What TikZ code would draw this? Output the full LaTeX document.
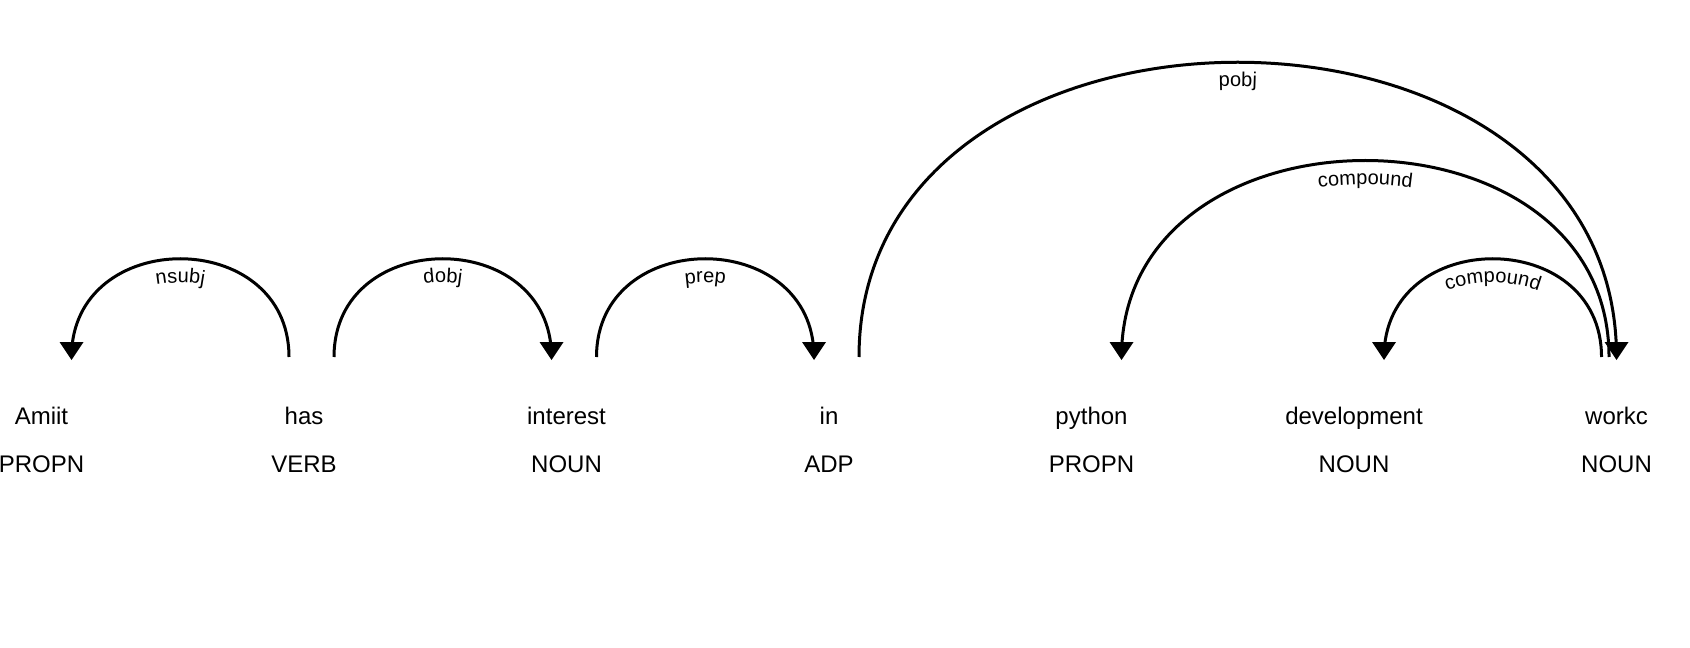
\documentclass[tikz,border=0pt]{standalone}
\usepackage{fontspec}
\setmainfont{Liberation Sans}
\usetikzlibrary{calc,decorations.text}

\tikzset{every picture/.style={line width=0.75pt}}
\tikzset{
  word/.style={anchor=base,inner sep=0pt,font=\fontsize{18}{21.6}\selectfont},
  deparc/.style={line width=2.25pt},
  arrowhead/.style={fill=black,draw=none},
  arclabel/.style={decorate,
    decoration={text along path,text={|\arclabelfont|#1},text align=center}},
}
\newcommand{\arclabelfont}{\fontsize{15}{18}\selectfont}

\begin{document}
\begin{tikzpicture}[x=0.75pt,y=0.75pt,yscale=-1,xscale=1]
		\useasboundingbox (0,0) rectangle (1690,648);

		% Text Node: words
		\node[word] (w0) at (41.5,424.5) {Amiit};
		\node[word] (w1) at (304,424.5) {has};
		\node[word] (w2) at (566.5,424.5) {interest};
		\node[word] (w3) at (829,424.5) {in};
		\node[word] (w4) at (1091.5,424.5) {python};
		\node[word] (w5) at (1354,424.5) {development};
		\node[word] (w6) at (1616.5,424.5) {workc};
		% Text Node: tags
		\node[word] (t0) at (41.5,472.5) {PROPN};
		\node[word] (t1) at (304,472.5) {VERB};
		\node[word] (t2) at (566.5,472.5) {NOUN};
		\node[word] (t3) at (829,472.5) {ADP};
		\node[word] (t4) at (1091.5,472.5) {PROPN};
		\node[word] (t5) at (1354,472.5) {NOUN};
		\node[word] (t6) at (1616.5,472.5) {NOUN};

		% arc ends
		\coordinate (a1) at (71.5,357);   \coordinate (b1) at (289,357);
		\coordinate (a2) at (334,357);    \coordinate (b2) at (551.5,357);
		\coordinate (a3) at (596.5,357);  \coordinate (b3) at (814,357);
		\coordinate (a4) at (859,357);    \coordinate (b4) at (1616.5,357);
		\coordinate (a5) at (1121.5,357); \coordinate (b5) at (1609,357);
		\coordinate (a6) at (1384,357);   \coordinate (b6) at (1601.5,357);
		% control heights
		\coordinate (h1) at (0,226);
		\coordinate (h2) at (0,95);
		\coordinate (h3) at (0,-36);

		% Arc: nsubj
		\draw[deparc] (a1) .. controls (a1 |- h1) and (b1 |- h1) .. (b1);
		\path[arclabel=nsubj] ($(a1)+(0,24)$) .. controls ($(a1 |- h1)+(0,24)$) and ($(b1 |- h1)+(0,24)$) .. ($(b1)+(0,24)$);
		\fill[arrowhead] ($(a1)+(0,3)$) -- ($(a1)+(-12,-15)$) -- ($(a1)+(12,-15)$) -- cycle;
		% Arc: dobj
		\draw[deparc] (a2) .. controls (a2 |- h1) and (b2 |- h1) .. (b2);
		\path[arclabel=dobj] ($(a2)+(0,24)$) .. controls ($(a2 |- h1)+(0,24)$) and ($(b2 |- h1)+(0,24)$) .. ($(b2)+(0,24)$);
		\fill[arrowhead] ($(b2)+(0,3)$) -- ($(b2)+(-12,-15)$) -- ($(b2)+(12,-15)$) -- cycle;
		% Arc: prep
		\draw[deparc] (a3) .. controls (a3 |- h1) and (b3 |- h1) .. (b3);
		\path[arclabel=prep] ($(a3)+(0,24)$) .. controls ($(a3 |- h1)+(0,24)$) and ($(b3 |- h1)+(0,24)$) .. ($(b3)+(0,24)$);
		\fill[arrowhead] ($(b3)+(0,3)$) -- ($(b3)+(-12,-15)$) -- ($(b3)+(12,-15)$) -- cycle;
		% Arc: pobj
		\draw[deparc] (a4) .. controls (a4 |- h3) and (b4 |- h3) .. (b4);
		\path[arclabel=pobj] ($(a4)+(0,24)$) .. controls ($(a4 |- h3)+(0,24)$) and ($(b4 |- h3)+(0,24)$) .. ($(b4)+(0,24)$);
		\fill[arrowhead] ($(b4)+(0,3)$) -- ($(b4)+(-12,-15)$) -- ($(b4)+(12,-15)$) -- cycle;
		% Arc: compound (python)
		\draw[deparc] (a5) .. controls (a5 |- h2) and (b5 |- h2) .. (b5);
		\path[arclabel=compound] ($(a5)+(0,24)$) .. controls ($(a5 |- h2)+(0,24)$) and ($(b5 |- h2)+(0,24)$) .. ($(b5)+(0,24)$);
		\fill[arrowhead] ($(a5)+(0,3)$) -- ($(a5)+(-12,-15)$) -- ($(a5)+(12,-15)$) -- cycle;
		% Arc: compound (development)
		\draw[deparc] (a6) .. controls (a6 |- h1) and (b6 |- h1) .. (b6);
		\path[arclabel=compound] ($(a6)+(0,24)$) .. controls ($(a6 |- h1)+(0,24)$) and ($(b6 |- h1)+(0,24)$) .. ($(b6)+(0,24)$);
		\fill[arrowhead] ($(a6)+(0,3)$) -- ($(a6)+(-12,-15)$) -- ($(a6)+(12,-15)$) -- cycle;

	\end{tikzpicture}
\end{document}
